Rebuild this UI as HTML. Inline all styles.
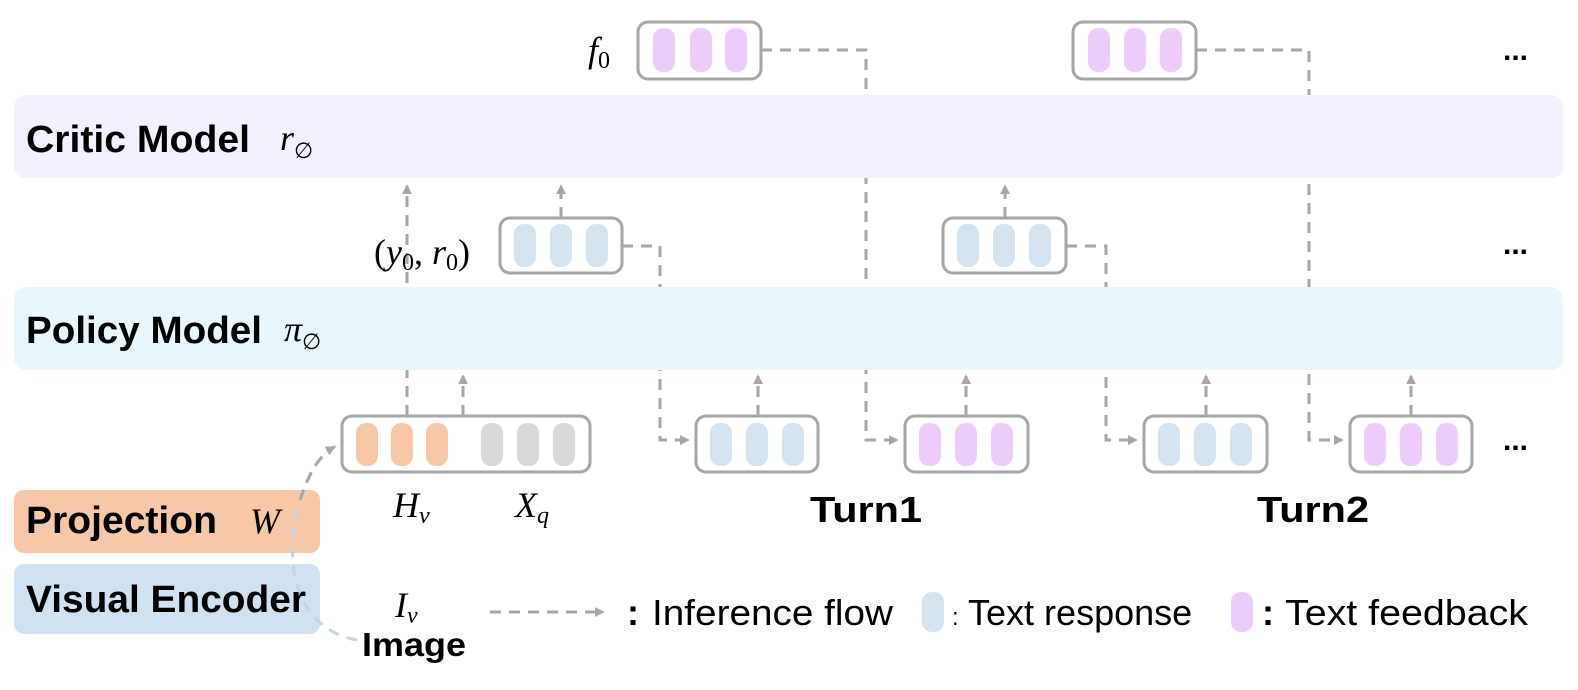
<!DOCTYPE html>
<html><head><meta charset="utf-8"><style>body{margin:0;background:#fff}svg{display:block}</style></head><body>
<svg width="1578" height="690" viewBox="0 0 1578 690" xmlns="http://www.w3.org/2000/svg" font-family="Liberation Sans, sans-serif">
<defs>
<marker id="a" markerWidth="10" markerHeight="10" refX="8" refY="5" orient="auto" markerUnits="userSpaceOnUse"><path d="M0,0 L10,5 L0,10 z" fill="#a6a6a6" transform="scale(1.4) translate(-3,-1.4)"/></marker>
</defs>
<g fill="none" stroke="#a6a6a6" stroke-width="3" stroke-dasharray="11,8">
<path d="M622,246 H660 V440 H688" marker-end="url(#a)"/>
<path d="M761,50 H866 V440 H897" marker-end="url(#a)"/>
<path d="M1066,246 H1106 V440 H1136" marker-end="url(#a)"/>
<path d="M1196,50 H1309 V440 H1342" marker-end="url(#a)"/>
<path d="M407,416 V186" marker-end="url(#a)"/>
<path d="M463,416 V376" marker-end="url(#a)"/>
<path d="M561,218 V186" marker-end="url(#a)"/>
<path d="M1005,218 V186" marker-end="url(#a)"/>
<path d="M758,416 V376" marker-end="url(#a)"/>
<path d="M966,416 V376" marker-end="url(#a)"/>
<path d="M1206,416 V376" marker-end="url(#a)"/>
<path d="M1411,416 V376" marker-end="url(#a)"/>
<path d="M490,612 H603" marker-end="url(#a)"/>
</g>
<rect x="14" y="95" width="1549" height="83" rx="12" fill="#f4f0fe"/>
<rect x="14" y="287" width="1549" height="83" rx="12" fill="#e8f7fc"/>
<rect x="14" y="490" width="306" height="63" rx="10" fill="#f7c8a8"/>
<rect x="14" y="564" width="306" height="70" rx="10" fill="#d0e2f2"/>
<path d="M357,640 C300,630 280,570 300,500 C310,470 320,455 336,446" fill="none" stroke="#c5d4e4" stroke-width="3" stroke-dasharray="11,8"/>
<path d="M300,500 C310,470 320,455 334,447" fill="none" stroke="#a6a6a6" stroke-width="3" stroke-dasharray="11,8" marker-end="url(#a)"/>
<g stroke="#a6a6a6" stroke-width="3" fill="#fff">
<rect x="638" y="22" width="123" height="57" rx="10"/>
<rect x="1073" y="22" width="123" height="57" rx="10"/>
<rect x="500" y="218" width="122" height="55" rx="10"/>
<rect x="943" y="218" width="123" height="55" rx="10"/>
<rect x="342" y="416" width="248" height="56" rx="10"/>
<rect x="696" y="416" width="122" height="56" rx="10"/>
<rect x="905" y="416" width="123" height="56" rx="10"/>
<rect x="1144" y="416" width="123" height="56" rx="10"/>
<rect x="1350" y="416" width="122" height="56" rx="10"/>
</g>
<g fill="#eecdfc">
<rect x="653" y="28" width="22" height="44" rx="10"/><rect x="690" y="28" width="22" height="44" rx="10"/><rect x="725" y="28" width="22" height="44" rx="10"/>
<rect x="1088" y="28" width="22" height="44" rx="10"/><rect x="1124" y="28" width="22" height="44" rx="10"/><rect x="1160" y="28" width="22" height="44" rx="10"/>
<rect x="919" y="423" width="22" height="43" rx="10"/><rect x="955" y="423" width="22" height="43" rx="10"/><rect x="991" y="423" width="22" height="43" rx="10"/>
<rect x="1364" y="423" width="22" height="43" rx="10"/><rect x="1400" y="423" width="22" height="43" rx="10"/><rect x="1436" y="423" width="22" height="43" rx="10"/>
<rect x="1231" y="592" width="22" height="40" rx="10"/>
</g>
<g fill="#d4e3f0">
<rect x="514" y="224" width="22" height="43" rx="10"/><rect x="550" y="224" width="22" height="43" rx="10"/><rect x="586" y="224" width="22" height="43" rx="10"/>
<rect x="957" y="224" width="22" height="43" rx="10"/><rect x="993" y="224" width="22" height="43" rx="10"/><rect x="1029" y="224" width="22" height="43" rx="10"/>
<rect x="710" y="423" width="22" height="43" rx="10"/><rect x="746" y="423" width="22" height="43" rx="10"/><rect x="782" y="423" width="22" height="43" rx="10"/>
<rect x="1158" y="423" width="22" height="43" rx="10"/><rect x="1194" y="423" width="22" height="43" rx="10"/><rect x="1230" y="423" width="22" height="43" rx="10"/>
<rect x="922" y="592" width="22" height="40" rx="10"/>
</g>
<g fill="#f7c8a8"><rect x="356" y="423" width="22" height="43" rx="10"/><rect x="391" y="423" width="22" height="43" rx="10"/><rect x="426" y="423" width="22" height="43" rx="10"/></g>
<g fill="#d9d9d9"><rect x="481" y="423" width="22" height="43" rx="10"/><rect x="517" y="423" width="22" height="43" rx="10"/><rect x="553" y="423" width="22" height="43" rx="10"/></g>
<g font-weight="bold" font-size="38" fill="#000">
<text x="26" y="152" textLength="224" lengthAdjust="spacingAndGlyphs">Critic Model</text>
<text x="26" y="343" textLength="236" lengthAdjust="spacingAndGlyphs">Policy Model</text>
<text x="26" y="533" textLength="191" lengthAdjust="spacingAndGlyphs">Projection</text>
<text x="26" y="612" textLength="280" lengthAdjust="spacingAndGlyphs">Visual Encoder</text>
<text x="810" y="522" font-size="36" textLength="112" lengthAdjust="spacingAndGlyphs">Turn1</text>
<text x="1257" y="522" font-size="36" textLength="112" lengthAdjust="spacingAndGlyphs">Turn2</text>
<text x="362" y="656" font-size="33" textLength="104" lengthAdjust="spacingAndGlyphs">Image</text>
<text x="627" y="625" font-size="36">:</text><text x="1262" y="625" font-size="36">:</text>
</g>
<g font-family="Liberation Serif, serif" font-style="italic" font-size="36" fill="#000">
<text x="280" y="150">r<tspan font-size="22" dy="8" font-style="normal">∅</tspan></text>
<text x="284" y="341">π<tspan font-size="22" dy="8" font-style="normal">∅</tspan></text>
<text x="250" y="533">W</text>
<text x="588" y="62">f<tspan font-size="24" dy="6" font-style="normal">0</tspan></text>
<text x="374" y="264"><tspan font-style="normal">(</tspan>y<tspan font-size="24" dy="6" font-style="normal">0</tspan><tspan dy="-6" font-style="normal">, </tspan>r<tspan font-size="24" dy="6" font-style="normal">0</tspan><tspan dy="-6" font-style="normal">)</tspan></text>
<text x="393" y="517">H<tspan font-size="24" dy="6">v</tspan></text>
<text x="515" y="517">X<tspan font-size="24" dy="6">q</tspan></text>
<text x="395" y="617">I<tspan font-size="24" dy="6">v</tspan></text>
</g>
<g font-size="36" fill="#000">
<text x="652" y="625" textLength="241" lengthAdjust="spacingAndGlyphs">Inference flow</text>
<text x="952" y="625"><tspan font-size="24">:</tspan> <tspan>Text response</tspan></text>
<text x="1285" y="625" textLength="243" lengthAdjust="spacingAndGlyphs">Text feedback</text>
<text x="1503" y="60" font-weight="bold" font-size="30">...</text><text x="1503" y="254" font-weight="bold" font-size="30">...</text><text x="1503" y="450" font-weight="bold" font-size="30">...</text>
</g>
</svg>
</body></html>
